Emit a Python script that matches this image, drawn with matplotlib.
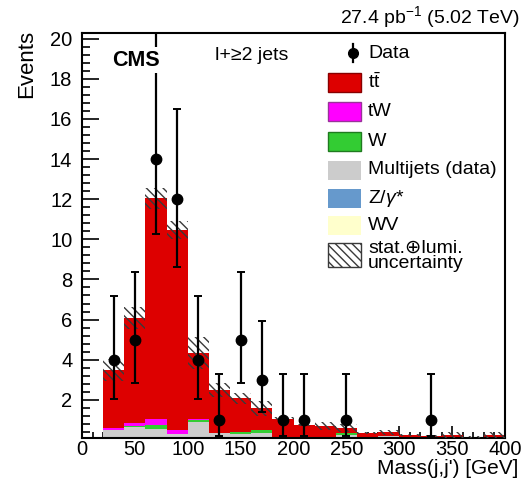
import numpy as np
import matplotlib
matplotlib.use("Agg")
import matplotlib.pyplot as plt
from matplotlib.patches import Rectangle
from matplotlib.lines import Line2D

plt.rcParams['font.family'] = ['Liberation Sans', 'DejaVu Sans']
plt.rcParams['mathtext.fontset'] = 'custom'
plt.rcParams['mathtext.rm'] = 'Liberation Sans'
plt.rcParams['mathtext.it'] = 'Liberation Sans:italic'
plt.rcParams['mathtext.bf'] = 'Liberation Sans:bold'
plt.rcParams['hatch.linewidth'] = 1.0

# 20 GeV bins from 20 to 400 GeV
bin_edges = np.arange(20, 401, 20)

# Stacked predictions (events per bin)
multijets = [0.50, 0.63, 0.55, 0.30, 0.90, 0.36, 0.30, 0.36, 0.0, 0.0,
             0.15, 0.25, 0.0, 0.20, 0.0, 0.0, 0.0, 0.0, 0.0]
zgamma = [0.0] * 19
w_jets = [0.0, 0.08, 0.17, 0.0, 0.10, 0.0, 0.11, 0.14, 0.0, 0.0,
          0.0, 0.10, 0.0, 0.0, 0.0, 0.0, 0.0, 0.0, 0.0]
wv = [0.0] * 19
tw = [0.08, 0.12, 0.31, 0.20, 0.02, 0.0, 0.0, 0.0, 0.02, 0.0,
      0.0, 0.0, 0.0, 0.0, 0.0, 0.0, 0.0, 0.0, 0.0]
ttbar = [2.90, 5.24, 11.01, 9.95, 3.29, 2.13, 1.66, 1.08, 1.03, 0.75,
         0.53, 0.23, 0.33, 0.18, 0.25, 0.20, 0.25, 0.12, 0.25]
# stat. (+) lumi. uncertainty on the total prediction
total_unc = [0.55, 0.55, 0.52, 0.45, 0.80, 0.33, 0.28, 0.38, 0.08, 0.06,
             0.20, 0.20, 0.05, 0.12, 0.05, 0.05, 0.16, 0.05, 0.15]

# Observed data
data_x = [30, 50, 70, 90, 110, 130, 150, 170, 190, 210, 250, 330]
data_y = [4, 5, 14, 12, 4, 1, 5, 3, 1, 1, 1, 1]
data_lo = [2.05, 2.84, 10.25, 8.63, 2.05, 0.17, 2.84, 1.37, 0.17, 0.17, 0.17, 0.17]
data_hi = [7.16, 8.38, 23.49, 16.50, 7.16, 3.30, 8.38, 5.92, 3.30, 3.30, 3.30, 3.30]

# Stack order (bottom to top) and colours
components = [
    ("Multijets (data)", multijets, "#cccccc"),
    (r"Z/$\gamma$*", zgamma, "#6699cc"),
    ("W", w_jets, "#33cc33"),
    ("WV", wv, "#ffffcc"),
    ("tW", tw, "#ff00ff"),
    (r"$\mathregular{t\bar{t}}$", ttbar, "#dd0000"),
]

fig = plt.figure(figsize=(5.26, 4.82), dpi=100)
W, H = 526, 482
ax = fig.add_axes([82 / W, 1 - 438.3 / H, 423 / W, 405.6 / H])

left = bin_edges[:-1]
width = np.diff(bin_edges)
bottom = np.zeros(len(left))
for name, vals, col in components:
    vals = np.asarray(vals)
    ax.bar(left, vals, width=width, bottom=bottom, align='edge',
           color=col, linewidth=0, zorder=2)
    bottom = bottom + vals
total = bottom
unc = np.asarray(total_unc)
ax.bar(left, 2 * unc, width=width, bottom=total - unc, align='edge',
       facecolor='none', edgecolor='#3a3a3a', hatch='\\\\\\\\',
       linewidth=0, zorder=3)

ax.errorbar(data_x, data_y,
            yerr=[np.asarray(data_y) - np.asarray(data_lo),
                  np.asarray(data_hi) - np.asarray(data_y)],
            fmt='o', color='black', markersize=7.5, elinewidth=1.6,
            capsize=3, capthick=1.4, zorder=5, clip_on=True)

ax.set_xlim(0, 400)
ax.set_ylim(0.08, 20.3)
ax.set_xticks(np.arange(0, 401, 50))
ax.set_xticks(np.arange(0, 401, 10), minor=True)
ax.set_yticks(np.arange(2, 21, 2))
ax.set_yticks(np.arange(0.4, 20.3, 0.4), minor=True)
ax.tick_params(axis='both', which='both', direction='in', top=False, right=False,
               labelsize=14.5, width=1.2)
ax.tick_params(axis='y', which='major', length=12, pad=7)
ax.tick_params(axis='y', which='minor', length=6)
ax.tick_params(axis='x', which='major', length=9, pad=1.0)
ax.tick_params(axis='x', which='minor', length=4.5)
for s in ax.spines.values():
    s.set_linewidth(1.5)

fig.text(27 / W, 1 - 30 / H, "Events", rotation=90, ha='center', va='top', fontsize=16)
fig.text(518 / W, 1 - 474 / H, "Mass(j,j') [GeV]", ha='right', va='baseline',
         fontsize=15)
fig.text(520 / W, 1 - 17 / H, r"27.4 pb$^{-1}$ (5.02 TeV)", ha='right', va='center',
         fontsize=14)


def axfrac(px, py):
    return (px - 82) / 423, (438.3 - py) / 405.6


ax.text(*axfrac(112, 60), "CMS", transform=ax.transAxes, ha='left', va='center',
        fontsize=15.5, fontweight='bold', zorder=6,
        bbox=dict(facecolor='white', edgecolor='none', pad=1.5))
ax.text(*axfrac(215, 55), "l+\u22652 jets", transform=ax.transAxes, ha='left',
        va='center', fontsize=14, zorder=6)

# Legend
leg_text_x = 368
ax.add_line(Line2D([axfrac(352.7, 0)[0]] * 2,
                   [axfrac(0, 44)[1], axfrac(0, 62)[1]],
                   transform=ax.transAxes, color='black', lw=1.6, zorder=6))
ax.add_line(Line2D([axfrac(352.7, 0)[0]], [axfrac(0, 53)[1]], marker='o',
                   markersize=7, color='black', transform=ax.transAxes, zorder=6))
ax.text(*axfrac(leg_text_x, 53), "Data", transform=ax.transAxes, ha='left',
        va='center', fontsize=14)

legend_rows = [
    (r"$\mathregular{t\bar{t}}$", "#dd0000", "#880000", 82),
    ("tW", "#ff00ff", "#993399", 111.7),
    ("W", "#33cc33", "#1f7a1f", 141.3),
    ("Multijets (data)", "#cccccc", None, 170),
    (r"Z/$\gamma$*", "#6699cc", None, 198.5),
    ("WV", "#ffffcc", None, 225.5),
]
bw, bh = 33 / 423, 19 / 405.6
for label, col, ecol, yc in legend_rows:
    x0, y0 = axfrac(328, yc + 9.5)
    ax.add_patch(Rectangle((x0, y0), bw, bh, transform=ax.transAxes,
                           facecolor=col, edgecolor=ecol if ecol else 'none',
                           linewidth=1.0, zorder=6))
    ax.text(*axfrac(leg_text_x, yc), label, transform=ax.transAxes, ha='left',
            va='center', fontsize=14)

x0, y0 = axfrac(328, 255 + 12)
ax.add_patch(Rectangle((x0, y0), bw, 24 / 405.6, transform=ax.transAxes,
                       facecolor='white', edgecolor='#3a3a3a', hatch='\\\\\\\\',
                       linewidth=1.0, zorder=6))
ax.text(*axfrac(leg_text_x, 248), "stat.\u2295lumi.", transform=ax.transAxes,
        ha='left', va='center', fontsize=14)
ax.text(*axfrac(leg_text_x, 264), "uncertainty", transform=ax.transAxes,
        ha='left', va='center', fontsize=14)

fig.savefig("out.png", dpi=100)
